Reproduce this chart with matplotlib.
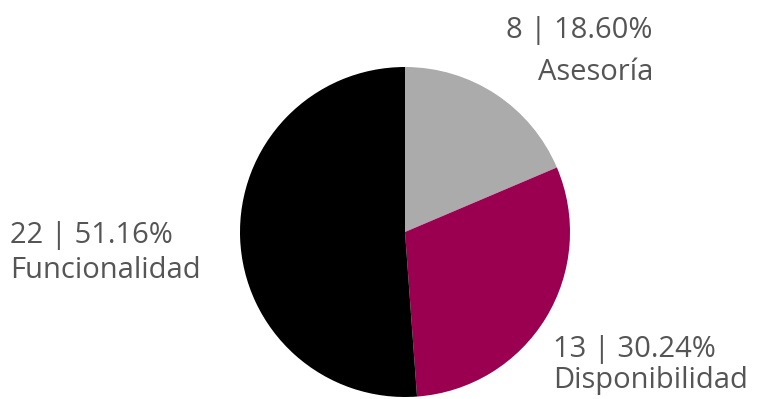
import matplotlib
matplotlib.use("Agg")
import matplotlib.pyplot as plt

# --- datos ---
categorias = ["Asesoría", "Disponibilidad", "Funcionalidad"]
valores = [8, 13, 22]
porcentajes = ["18.60%", "30.24%", "51.16%"]
colores = ["#ababab", "#9b0050", "#000000"]

W, H = 758, 399
CX, CY, R = 405, 232, 165  # centro y radio en pixeles


def px(x, y):
  """Pixel (desde arriba) -> coordenadas del pie."""
  return (x - CX) / R, (CY - y) / R


fig = plt.figure(figsize=(W / 100, H / 100), dpi=100)
ax = fig.add_axes([0, 0, 1, 1])
ax.pie(valores, colors=colores, startangle=90, counterclock=False,
       wedgeprops=dict(linewidth=0))
ax.set_xlim(-CX / R, (W - CX) / R)
ax.set_ylim(-(H - CY) / R, CY / R)
ax.set_aspect("equal")
ax.axis("off")

# posiciones de etiquetas: (x, baseline1, baseline2, alineacion)
etiquetas = [
  (653, 38, 80, "right"),
  (553, 357, 388, "left"),
  (10, 243, 278, "left"),
]

estilo = dict(fontsize=21, color="#555555", family=["Open Sans", "DejaVu Sans"], va="baseline")
for (x, b1, b2, ha), cat, v, p in zip(etiquetas, categorias, valores, porcentajes):
  ax.text(*px(x, b1), f"{v} | {p}", ha=ha, **estilo)
  ax.text(*px(x, b2), cat, ha=ha, **estilo)

fig.savefig("out.png", dpi=100)
